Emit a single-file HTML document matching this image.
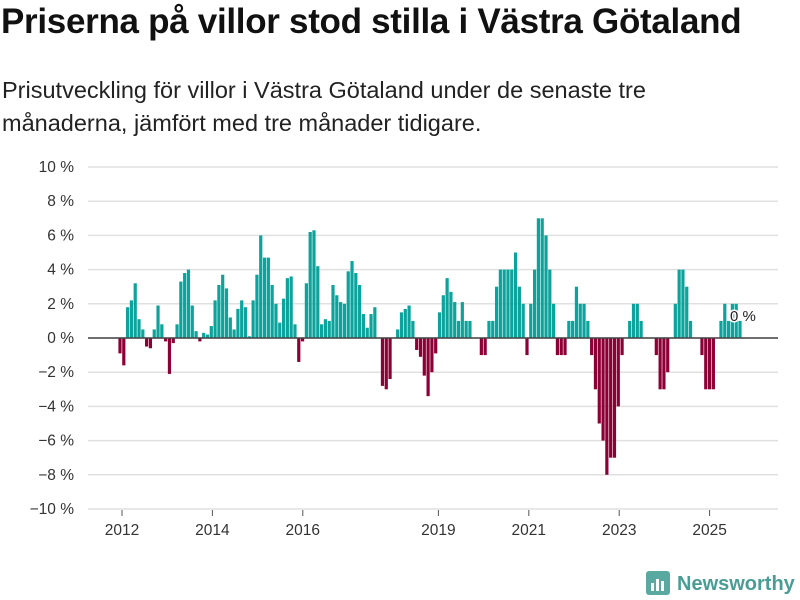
<!DOCTYPE html>
<html><head><meta charset="utf-8">
<style>
body{margin:0;width:800px;height:600px;background:#fff;font-family:"Liberation Sans",sans-serif;overflow:hidden;position:relative}
h1{position:absolute;left:1px;top:2px;margin:0;font-size:35px;font-weight:bold;color:#111;letter-spacing:-0.3px;white-space:nowrap}
p{position:absolute;left:2px;top:74px;margin:0;font-size:23.5px;line-height:33px;color:#222;width:690px}
</style></head><body>
<h1>Priserna på villor stod stilla i Västra Götaland</h1>
<p>Prisutveckling för villor i Västra Götaland under de senaste tre månaderna, jämfört med tre månader tidigare.</p>
<svg id="chart" width="800" height="600" style="position:absolute;left:0;top:0"></svg>
<script>
const yTicks=[10,8,6,4,2,0,-2,-4,-6,-8,-10];
const yTickLabels=["10 %","8 %","6 %","4 %","2 %","0 %","−2 %","−4 %","−6 %","−8 %","−10 %"];
const xTickYears=[2012,2014,2016,2019,2021,2023,2025];
const values=[-0.9,-1.6,1.8,2.2,3.2,1.1,0.5,-0.5,-0.6,0.5,1.9,0.8,-0.2,-2.1,-0.3,0.8,3.3,3.8,4.0,1.9,0.4,-0.2,0.3,0.2,0.7,2.2,3.1,3.7,2.9,1.2,0.5,1.7,2.2,1.8,0.1,2.2,3.7,6.0,4.7,4.7,3.1,2.0,0.9,2.3,3.5,3.6,0.8,-1.4,-0.2,3.2,6.2,6.3,4.2,0.8,1.1,1.0,3.1,2.5,2.1,2.0,3.9,4.5,3.8,3.1,1.4,0.6,1.4,1.8,
0,-2.8,-3.0,-2.4,0,0.5,1.5,1.7,1.9,1.0,-0.7,-1.1,-2.2,-3.4,-2.0,-0.9,1.5,2.5,3.5,2.7,2.1,1.0,2.1,1.0,1.0,0,0,-1.0,-1.0,1.0,1.0,3.0,4.0,4.0,4.0,4.0,5.0,3.0,2.0,-1.0,2.0,4.0,7.0,7.0,6.0,4.0,2.0,-1,-1,-1,1,1,3,2,2,1,-1,-3,-5,-6,-8,-7,-7,-4,-1,0,1,2,2,1,0,0,0,-1,-3,-3,-2,0,2,4,4,3,1,0,0,-1,-3,-3,-3,0,1,2,1,2,2,1];
const lastLabel="0 %";
const NS="http://www.w3.org/2000/svg";
const svg=document.getElementById('chart');
function y(v){return 338-v*17.1;}
function yr(t){return 122+(t-2012)*45.2;}
const x0=120,x1=740,step=(x1-x0)/(values.length-1);
function xi(i){return x0+i*step;}
function mk(t,a){const e=document.createElementNS(NS,t);for(const k in a)e.setAttribute(k,a[k]);svg.appendChild(e);return e;}
yTicks.forEach((v,i)=>{
 const g=mk('line',{x1:88,x2:778,y1:y(v),y2:y(v),stroke:'#e0e0e0','stroke-width':1.5});
 
 
 const t=mk('text',{x:74,y:y(v)+5,'text-anchor':'end','font-size':15.5,fill:'#333','font-family':'Liberation Sans, sans-serif'});
 t.textContent=yTickLabels[i];
 
 
});
values.forEach((v,i)=>{
 const r=mk('rect',{x:xi(i)-1.6,y:v>=0?y(v):y(0),width:3.2,height:Math.abs(v)*17.1,fill:v>=0?'#0ba39b':'#8c0036'});
 
 
});
const z=mk('line',{x1:88,x2:778,y1:y(0),y2:y(0),stroke:'#444','stroke-width':1.5});


xTickYears.forEach(t=>{
 const l=mk('line',{x1:yr(t),x2:yr(t),y1:510,y2:516,stroke:'#555','stroke-width':1});
 
 
 const tx=mk('text',{x:yr(t),y:535,'text-anchor':'middle','font-size':15.5,fill:'#333','font-family':'Liberation Sans, sans-serif'});
 tx.textContent=t;
 
 
});
const lb=mk('text',{x:730,y:321,'font-size':15,fill:'#222',stroke:'#fff','stroke-width':3,'paint-order':'stroke','font-family':'Liberation Sans, sans-serif'});
lb.textContent=lastLabel;


const logo=mk('g',{});


logo.innerHTML='<rect x="646" y="571" width="24" height="24" rx="3" fill="#5aa9a0"/><rect x="651" y="583" width="3" height="8" fill="#fff"/><rect x="656" y="579" width="3" height="12" fill="#fff"/><rect x="661" y="581" width="3" height="10" fill="#fff"/><text x="677" y="590" font-size="20" font-weight="bold" fill="#4a9d94" font-family="Liberation Sans, sans-serif">Newsworthy</text>';
</script>
</body></html>
